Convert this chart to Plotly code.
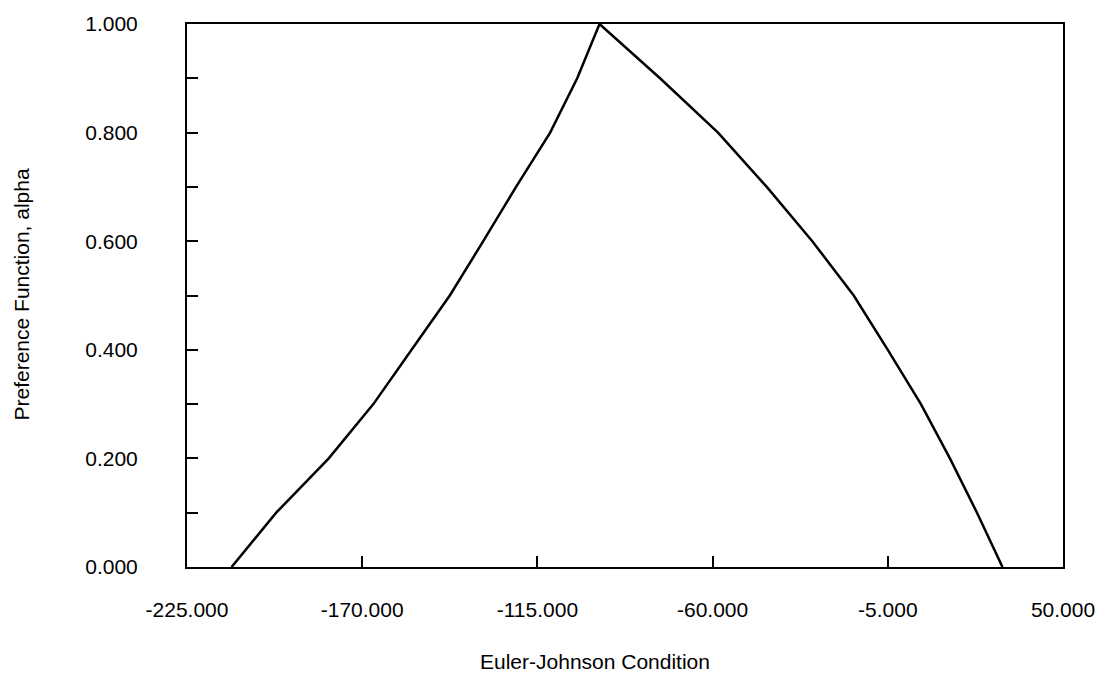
import plotly.graph_objects as go

# alpha-cut levels of the preference function
alpha_levels = [0.0, 0.1, 0.2, 0.3, 0.4, 0.5, 0.6, 0.7, 0.8, 0.9, 1.0]
# lower and upper bounds of the Euler-Johnson condition at each alpha level
lower_bound = [-211.0, -197.0, -180.5, -166.5, -154.5, -142.5, -132.0, -121.7, -111.0, -102.5, -95.5]
upper_bound = [31.0, 23.0, 14.5, 5.4, -5.0, -15.7, -28.7, -43.0, -58.3, -76.5, -95.5]

x_ticks = [-225, -170, -115, -60, -5, 50]
x_labels = ["-225.000", "-170.000", "-115.000", "-60.000", "-5.000", "50.000"]
y_ticks = [0.0, 0.1, 0.2, 0.3, 0.4, 0.5, 0.6, 0.7, 0.8, 0.9, 1.0]
y_labels = ["0.000", "", "0.200", "", "0.400", "", "0.600", "", "0.800", "", "1.000"]

# rising branch then falling branch
xs = lower_bound + upper_bound[::-1]
ys = alpha_levels + alpha_levels[::-1]

font_family = "Liberation Sans, Arial, Helvetica, sans-serif"

fig = go.Figure(
    go.Scatter(
        x=xs, y=ys, mode="lines",
        line=dict(color="black", width=2.5),
        cliponaxis=False, showlegend=False, hoverinfo="skip",
    )
)

fig.update_layout(
    width=1110, height=679,
    margin=dict(l=187, r=47, t=19, b=112),
    paper_bgcolor="white", plot_bgcolor="white",
    font=dict(family=font_family, size=21, color="black"),
    showlegend=False,
)

fig.update_xaxes(
    range=[-225, 50], tickvals=x_ticks, ticktext=x_labels,
    showline=True, linecolor="black", linewidth=2, mirror=True,
    ticks="inside", ticklen=11, tickwidth=2, tickcolor="black",
    showgrid=False, zeroline=False, ticklabelstandoff=23,
    tickfont=dict(size=21),
)
fig.update_yaxes(
    range=[0, 1], tickvals=y_ticks, ticktext=y_labels,
    showline=True, linecolor="black", linewidth=2, mirror=True,
    ticks="inside", ticklen=11, tickwidth=2, tickcolor="black",
    showgrid=False, zeroline=False, ticklabelstandoff=43,
    tickfont=dict(size=21),
)

fig.add_annotation(
    text="Euler-Johnson Condition", xref="paper", yref="paper",
    x=(595 - 187) / (1063 - 187), y=-(662 - 567) / (567 - 19),
    showarrow=False, xanchor="center", yanchor="middle",
    font=dict(size=21),
)
fig.add_annotation(
    text="Preference Function, alpha", xref="paper", yref="paper",
    x=-(187 - 22) / (1063 - 187), y=(567 - 292) / (567 - 19),
    showarrow=False, xanchor="center", yanchor="middle", textangle=-90,
    font=dict(size=21),
)

fig.write_html("out.html")
